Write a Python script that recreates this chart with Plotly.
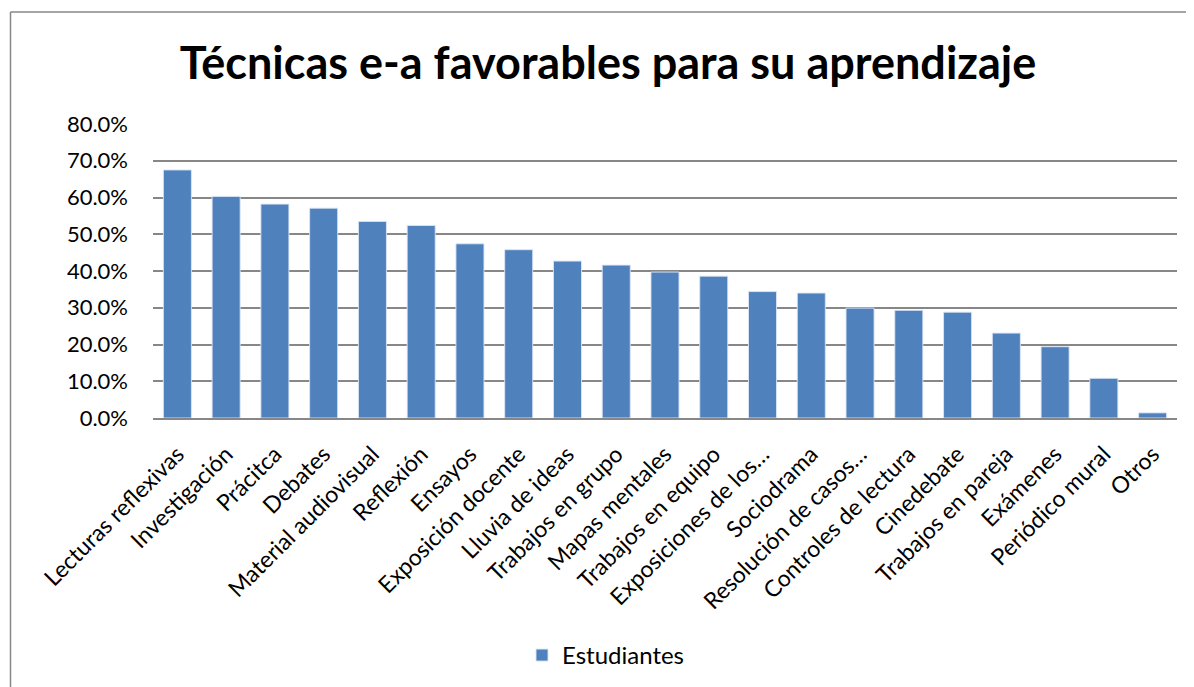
import plotly.graph_objects as go

categories = [
    "Lecturas reflexivas", "Investigación", "Prácitca", "Debates",
    "Material audiovisual", "Reflexión", "Ensayos", "Exposición docente",
    "Lluvia de ideas", "Trabajos en grupo", "Mapas mentales",
    "Trabajos en equipo", "Exposiciones de los…", "Sociodrama",
    "Resolución de casos…", "Controles de lectura", "Cinedebate",
    "Trabajos en pareja", "Exámenes", "Periódico mural", "Otros",
]
estudiantes = [
    0.675, 0.603, 0.582, 0.571, 0.535, 0.524, 0.474, 0.458, 0.427, 0.416,
    0.397, 0.386, 0.344, 0.340, 0.299, 0.293, 0.288, 0.231, 0.194, 0.108, 0.014,
]
y_ticks = [0, 0.1, 0.2, 0.3, 0.4, 0.5, 0.6, 0.7, 0.8]

FONT = "Lato, 'Open Sans', sans-serif"
GRID = "#878787"

# page body has an 8px margin; figure coordinates are screen - 8
W, H = 1186, 679
L, T = 145, 116
PW = 1024            # plot width in px
PH = 294.3           # plot height in px
B = H - (T + PH)
R = W - (L + PW)


def px_x(sx):
    return (sx - 8 - L) / PW


def px_y(sy):
    return (T + PH - (sy - 8)) / PH


fig = go.Figure()
fig.add_trace(go.Bar(
    x=categories, y=estudiantes, name="Estudiantes",
    marker=dict(color="#4F81BD", line=dict(color="rgba(220,230,245,0.9)", width=1)),
))

fig.update_layout(
    width=W, height=H,
    margin=dict(l=L, r=R, t=T, b=B, autoexpand=False),
    paper_bgcolor="white", plot_bgcolor="white",
    bargap=0.425,
    font=dict(family=FONT, color="black"),
    title=dict(
        text="<b>Técnicas e-a favorables para su aprendizaje</b>",
        font=dict(family=FONT, size=45, color="black"),
        x=(608 - 8) / W, xref="container", xanchor="center",
        y=1 - (63 - 8) / H, yref="container", yanchor="middle",
    ),
    showlegend=True,
    legend=dict(
        orientation="h", x=px_x(522), xanchor="left", y=px_y(656), yanchor="middle",
        font=dict(family=FONT, size=24, color="black"),
    ),
    xaxis=dict(
        tickangle=-45, tickfont=dict(family=FONT, size=23, color="black"),
        showline=True, linecolor=GRID, linewidth=1.5, ticks="", showgrid=False,
        ticklabelstandoff=12,
    ),
    yaxis=dict(
        range=[0, 0.8], tickvals=y_ticks, tickformat=".1%",
        tickfont=dict(family=FONT, size=22, color="black"),
        showgrid=True, gridcolor=GRID, gridwidth=1.5, zeroline=False,
        showline=False, ticks="", ticklabelstandoff=24,
    ),
    shapes=[
        dict(type="line", xref="paper", yref="paper",
             x0=px_x(10.5), x1=1.2, y0=px_y(12), y1=px_y(12),
             line=dict(color=GRID, width=1.5)),
        dict(type="line", xref="paper", yref="paper",
             x0=px_x(10.5), x1=px_x(10.5), y0=px_y(12), y1=-1.3,
             line=dict(color=GRID, width=1.5)),
    ],
)

fig.write_html("out.html")
